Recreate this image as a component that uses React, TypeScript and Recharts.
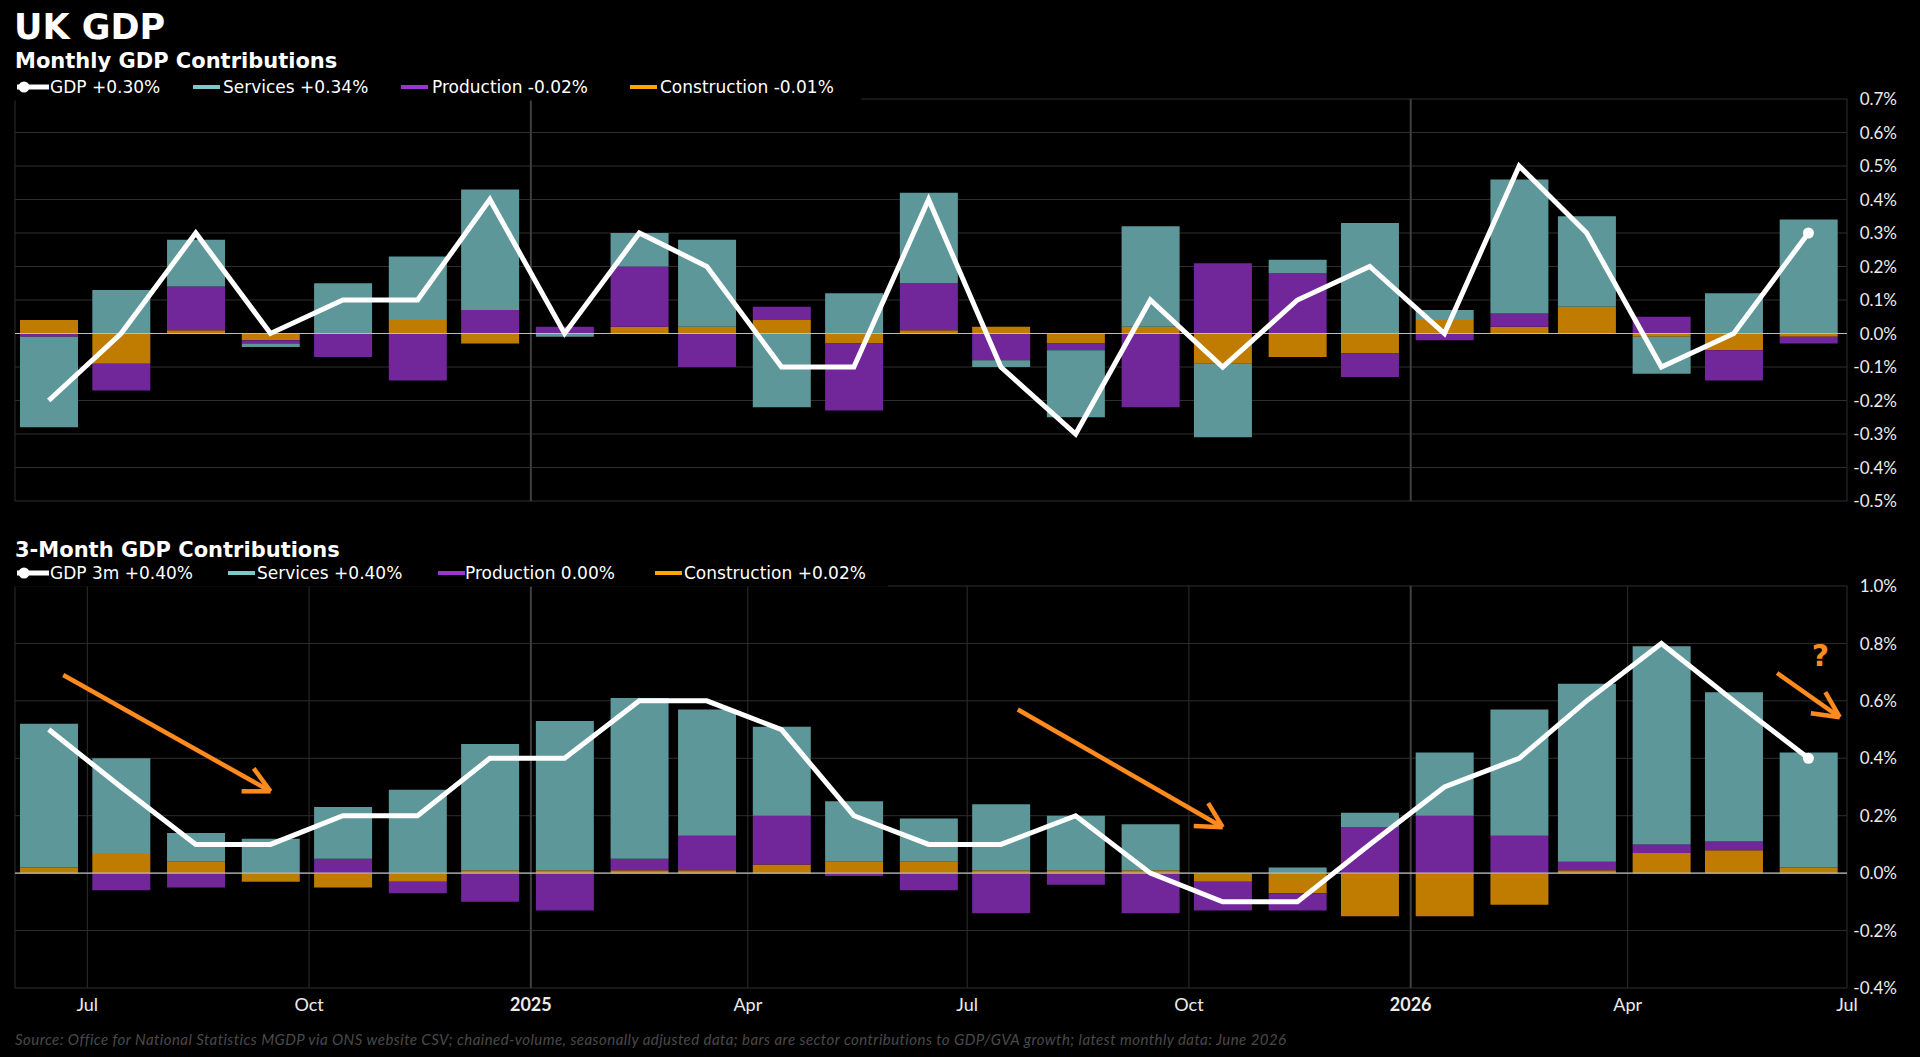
import React from 'react';
import {
  ComposedChart,
  Bar,
  Line,
  XAxis,
  YAxis,
  CartesianGrid,
  ReferenceLine,
  ReferenceDot,
} from 'recharts';

// ---------- data ----------
const monthKeys = [
  '2024-06', '2024-07', '2024-08', '2024-09', '2024-10', '2024-11', '2024-12',
  '2025-01', '2025-02', '2025-03', '2025-04', '2025-05', '2025-06', '2025-07',
  '2025-08', '2025-09', '2025-10', '2025-11', '2025-12', '2026-01', '2026-02',
  '2026-03', '2026-04', '2026-05', '2026-06',
];

const monthlyServices = [
  -0.27, 0.13, 0.14, -0.01, 0.15, 0.19, 0.36, -0.01, 0.1, 0.26, -0.22, 0.12, 0.27,
  -0.02, -0.2, 0.3, -0.22, 0.04, 0.33, 0.03, 0.4, 0.27, -0.11, 0.12, 0.34,
];
const monthlyProduction = [
  -0.01, -0.08, 0.13, -0.01, -0.07, -0.14, 0.07, 0.02, 0.18, -0.1, 0.04, -0.2, 0.14,
  -0.08, -0.02, -0.22, 0.21, 0.18, -0.07, -0.02, 0.04, 0.0, 0.05, -0.09, -0.02,
];
const monthlyConstruction = [
  0.04, -0.09, 0.01, -0.02, 0.0, 0.04, -0.03, 0.0, 0.02, 0.02, 0.04, -0.03, 0.01,
  0.02, -0.03, 0.02, -0.09, -0.07, -0.06, 0.04, 0.02, 0.08, -0.01, -0.05, -0.01,
];
const monthlyGdp = [
  -0.2, 0.0, 0.3, 0.0, 0.1, 0.1, 0.4, 0.0, 0.3, 0.2, -0.1, -0.1, 0.4,
  -0.1, -0.3, 0.1, -0.1, 0.1, 0.2, 0.0, 0.5, 0.3, -0.1, 0.0, 0.3,
];

const threeMServices = [
  0.5, 0.33, 0.1, 0.12, 0.18, 0.29, 0.44, 0.52, 0.56, 0.44, 0.31, 0.21, 0.15,
  0.23, 0.19, 0.16, 0.0, 0.02, 0.05, 0.22, 0.44, 0.62, 0.69, 0.52, 0.4,
];
const threeMProduction = [
  0.0, -0.06, -0.05, 0.0, 0.05, -0.04, -0.1, -0.13, 0.04, 0.12, 0.17, -0.01, -0.06,
  -0.14, -0.04, -0.14, -0.1, -0.06, 0.16, 0.2, 0.13, 0.03, 0.03, 0.03, 0.0,
];
const threeMConstruction = [
  0.02, 0.07, 0.04, -0.03, -0.05, -0.03, 0.01, 0.01, 0.01, 0.01, 0.03, 0.04, 0.04,
  0.01, 0.01, 0.01, -0.03, -0.07, -0.15, -0.15, -0.11, 0.01, 0.07, 0.08, 0.02,
];
const threeMGdp = [
  0.5, 0.3, 0.1, 0.1, 0.2, 0.2, 0.4, 0.4, 0.6, 0.6, 0.5, 0.2, 0.1,
  0.1, 0.2, 0.0, -0.1, -0.1, 0.1, 0.3, 0.4, 0.6, 0.8, 0.6, 0.4,
];

const xTickDates = [
  '2024-07-01', '2024-10-01', '2025-01-01', '2025-04-01', '2025-07-01',
  '2025-10-01', '2026-01-01', '2026-04-01', '2026-07-01',
];
const xTickLabels = ['Jul', 'Oct', '2025', 'Apr', 'Jul', 'Oct', '2026', 'Apr', 'Jul'];
const yearStartDates = ['2025-01-01', '2026-01-01'];
const xDomainDates = ['2024-06-01', '2026-07-01'];

const monthlyYTicks = [0.7, 0.6, 0.5, 0.4, 0.3, 0.2, 0.1, 0.0, -0.1, -0.2, -0.3, -0.4, -0.5];
const threeMYTicks = [1.0, 0.8, 0.6, 0.4, 0.2, 0.0, -0.2, -0.4];

// annotation arrows on the 3-month panel (data coordinates)
const arrows = [
  { from: ['2024-06-21', 0.69], to: ['2024-09-15', 0.285], headA: ['2024-09-03', 0.285], headB: ['2024-09-08', 0.365] },
  { from: ['2025-07-22', 0.57], to: ['2025-10-15', 0.16], headA: ['2025-10-03', 0.164], headB: ['2025-10-09', 0.244] },
  { from: ['2026-06-02', 0.697], to: ['2026-06-28', 0.543], headA: ['2026-06-16', 0.557], headB: ['2026-06-22', 0.63] },
];
const questionMark = { date: '2026-06-20', value: 0.76 };

// ---------- helpers ----------
const toTime = (s: string) => {
  const [y, m, d] = s.split('-').map(Number);
  return Date.UTC(y, m - 1, d);
};

const buildRows = (s: number[], p: number[], c: number[], g: number[]) =>
  monthKeys.map((k, i) => ({
    t: toTime(k + '-15'),
    services: s[i],
    production: p[i],
    construction: c[i],
    gdp: g[i],
  }));

const monthlyData = buildRows(monthlyServices, monthlyProduction, monthlyConstruction, monthlyGdp);
const threeMData = buildRows(threeMServices, threeMProduction, threeMConstruction, threeMGdp);

const xTicks = xTickDates.map(toTime);
const xDomain = xDomainDates.map(toTime);

const COLORS = {
  services: '#7DC8CC',
  production: '#9B35CF',
  construction: '#FFA500',
  servicesBar: '#5E979A',
  productionBar: '#71279A',
  constructionBar: '#BF7C00',
  grid: '#2e2e2e',
  yearGrid: '#3f3f3f',
  arrow: '#FF8A1E',
};

const YTick = (props: any) => {
  const { x, y, payload } = props;
  return (
    <text
      x={x + 50}
      y={y}
      dy="0.36em"
      textAnchor="end"
      fill="#ececec"
      fontFamily="Lato"
      fontSize={17}
    >
      {`${Number(payload.value).toFixed(1)}%`}
    </text>
  );
};

const XTick = (props: any) => {
  const { x, y, payload } = props;
  const idx = xTicks.indexOf(payload.value);
  const label = idx >= 0 ? xTickLabels[idx] : '';
  const bold = /^\d{4}$/.test(label);
  return (
    <text
      x={x}
      y={y + 23}
      textAnchor="middle"
      fill="#ececec"
      fontFamily="Lato"
      fontWeight={bold ? 700 : 400}
      fontSize={18}
    >
      {label}
    </text>
  );
};

const lastDot = (n: number) => (props: any) => {
  const { cx, cy, index } = props;
  if (index !== n - 1) return <g key={`dot-${index}`} />;
  return <circle key={`dot-${index}`} cx={cx} cy={cy} r={5.5} fill="#ffffff" />;
};

type PanelProps = {
  data: typeof monthlyData;
  height: number;
  margin: { top: number; right: number; bottom: number; left: number };
  yDomain: [number, number];
  yTicks: number[];
  showX: boolean;
  withArrows: boolean;
};

const Panel = ({ data, height, margin, yDomain, yTicks, showX, withArrows }: PanelProps) => (
  <ComposedChart width={1920} height={height} data={data} margin={margin} stackOffset="sign">
    <CartesianGrid stroke={COLORS.grid} strokeWidth={1} />
    <XAxis
      dataKey="t"
      type="number"
      domain={xDomain}
      ticks={xTicks}
      allowDataOverflow
      height={showX ? 30 : 0}
      axisLine={false}
      tickLine={false}
      tickSize={0}
      tickMargin={0}
      tick={showX ? <XTick /> : false}
      interval={0}
    />
    <YAxis
      orientation="right"
      type="number"
      domain={yDomain}
      ticks={yTicks}
      allowDataOverflow
      width={60}
      axisLine={false}
      tickLine={false}
      tickSize={0}
      tickMargin={0}
      tick={<YTick />}
      interval={0}
    />
    {yearStartDates.map((d) => (
      <ReferenceLine key={d} x={toTime(d)} stroke={COLORS.yearGrid} strokeWidth={2} />
    ))}
    <Bar dataKey="construction" stackId="s" fill={COLORS.constructionBar} barSize={58} isAnimationActive={false} />
    <Bar dataKey="production" stackId="s" fill={COLORS.productionBar} barSize={58} isAnimationActive={false} />
    <Bar dataKey="services" stackId="s" fill={COLORS.servicesBar} barSize={58} isAnimationActive={false} />
    <ReferenceLine y={0} stroke="#bdbdbd" strokeWidth={1.2} />
    <Line
      type="linear"
      dataKey="gdp"
      stroke="#ffffff"
      strokeWidth={5}
      dot={lastDot(data.length)}
      activeDot={false}
      isAnimationActive={false}
    />
    {withArrows &&
      arrows.flatMap((a, i) => [
        <ReferenceLine
          key={`a${i}-s`}
          segment={[
            { x: toTime(a.from[0] as string), y: a.from[1] as number },
            { x: toTime(a.to[0] as string), y: a.to[1] as number },
          ]}
          stroke={COLORS.arrow}
          strokeWidth={4.5}
          ifOverflow="visible"
        />,
        <ReferenceLine
          key={`a${i}-h1`}
          segment={[
            { x: toTime(a.headA[0] as string), y: a.headA[1] as number },
            { x: toTime(a.to[0] as string), y: a.to[1] as number },
          ]}
          stroke={COLORS.arrow}
          strokeWidth={4.5}
          ifOverflow="visible"
        />,
        <ReferenceLine
          key={`a${i}-h2`}
          segment={[
            { x: toTime(a.headB[0] as string), y: a.headB[1] as number },
            { x: toTime(a.to[0] as string), y: a.to[1] as number },
          ]}
          stroke={COLORS.arrow}
          strokeWidth={4.5}
          ifOverflow="visible"
        />,
      ])}
    {withArrows && (
      <ReferenceDot
        x={toTime(questionMark.date)}
        y={questionMark.value}
        r={0}
        ifOverflow="visible"
        shape={(p: any) => (
          <text
            x={p.cx}
            y={p.cy}
            dy="0.36em"
            textAnchor="middle"
            fill={COLORS.arrow}
            fontFamily="DejaVu Sans"
            fontWeight={700}
            fontSize={30}
          >
            ?
          </text>
        )}
      />
    )}
  </ComposedChart>
);

const LegendRow = ({
  y,
  items,
}: {
  y: number;
  items: { kind: 'gdp' | 'services' | 'production' | 'construction'; label: string; sx: number; tx: number }[];
}) => (
  <g>
    {items.map((it) => {
      const cy = y - 6;
      const sym =
        it.kind === 'gdp' ? (
          <g>
            <line x1={it.sx} x2={it.sx + 32} y1={cy} y2={cy} stroke="#fff" strokeWidth={5} />
            <circle cx={it.sx + 7} cy={cy} r={5.5} fill="#fff" />
          </g>
        ) : (
          <line
            x1={it.sx}
            x2={it.sx + 27}
            y1={cy}
            y2={cy}
            stroke={COLORS[it.kind]}
            strokeWidth={4}
          />
        );
      return (
        <g key={it.label}>
          {sym}
          <text x={it.tx} y={y} fill="#ffffff" fontFamily="DejaVu Sans" fontSize={17}>
            {it.label}
          </text>
        </g>
      );
    })}
  </g>
);

const fmtPct = (v: number) => `${v > 0 ? '+' : ''}${v.toFixed(2)}%`;
const last = monthKeys.length - 1;

export default function App() {
  return (
    <div
      style={{
        position: 'absolute',
        left: 0,
        top: 0,
        width: 1920,
        height: 1057,
        background: '#000',
        overflow: 'hidden',
      }}
    >
      <div style={{ position: 'absolute', left: 0, top: 0 }}>
        <Panel
          data={monthlyData}
          height={520}
          margin={{ top: 99, right: 13, bottom: 19, left: 15 }}
          yDomain={[-0.5, 0.7]}
          yTicks={monthlyYTicks}
          showX={false}
          withArrows={false}
        />
      </div>
      <div style={{ position: 'absolute', left: 0, top: 560 }}>
        <Panel
          data={threeMData}
          height={470}
          margin={{ top: 26, right: 13, bottom: 12, left: 15 }}
          yDomain={[-0.4, 1.0]}
          yTicks={threeMYTicks}
          showX={true}
          withArrows={true}
        />
      </div>
      <svg
        width={1920}
        height={1057}
        style={{ position: 'absolute', left: 0, top: 0, pointerEvents: 'none' }}
      >
        <rect x={0} y={72} width={861} height={28.5} fill="#000" />
        <rect x={0} y={560} width={888} height={26.6} fill="#000" />
        <text x={14} y={39} fill="#fff" fontFamily="DejaVu Sans" fontWeight={700} fontSize={35}>
          UK GDP
        </text>
        <text x={15} y={68} fill="#fff" fontFamily="DejaVu Sans" fontWeight={700} fontSize={21}>
          Monthly GDP Contributions
        </text>
        <LegendRow
          y={93}
          items={[
            { kind: 'gdp', label: `GDP ${fmtPct(monthlyGdp[last])}`, sx: 17, tx: 50 },
            { kind: 'services', label: `Services ${fmtPct(monthlyServices[last])}`, sx: 193, tx: 223 },
            { kind: 'production', label: `Production ${fmtPct(monthlyProduction[last])}`, sx: 401, tx: 432 },
            { kind: 'construction', label: `Construction ${fmtPct(monthlyConstruction[last])}`, sx: 630, tx: 660 },
          ]}
        />
        <text x={15} y={557} fill="#fff" fontFamily="DejaVu Sans" fontWeight={700} fontSize={21}>
          3-Month GDP Contributions
        </text>
        <LegendRow
          y={579}
          items={[
            { kind: 'gdp', label: `GDP 3m ${fmtPct(threeMGdp[last])}`, sx: 17, tx: 50 },
            { kind: 'services', label: `Services ${fmtPct(threeMServices[last])}`, sx: 228, tx: 257 },
            { kind: 'production', label: `Production ${fmtPct(threeMProduction[last])}`, sx: 438, tx: 465 },
            { kind: 'construction', label: `Construction ${fmtPct(threeMConstruction[last])}`, sx: 655, tx: 684 },
          ]}
        />
        <text
          x={15}
          y={1045}
          fill="#4a4a4a"
          fontFamily="Lato"
          fontStyle="italic"
          fontSize={15}
          letterSpacing={0.45}
        >
          Source: Office for National Statistics MGDP via ONS website CSV; chained-volume, seasonally adjusted data; bars are sector contributions to GDP/GVA growth; latest monthly data: June 2026
        </text>
      </svg>
    </div>
  );
}
